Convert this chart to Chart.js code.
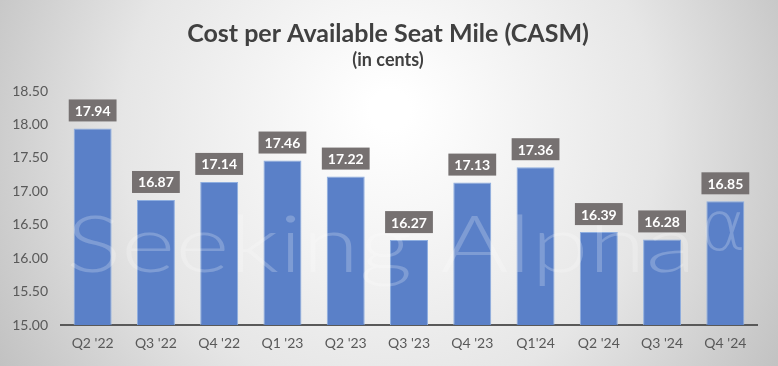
<!DOCTYPE html>
<html>
<head>
<meta charset="utf-8">
<script src="https://cdn.jsdelivr.net/npm/chart.js@4"></script>
<style>
  html, body { margin: 0; padding: 0; background: #fff; }
  #wrap { width: 778px; height: 366px; }
</style>
</head>
<body>
<div id="wrap"><canvas id="casmChart" width="778" height="366"></canvas></div>
<script>
// data
const quarters = ["Q2 '22", "Q3 '22", "Q4 '22", "Q1 '23", "Q2 '23", "Q3 '23", "Q4 '23", "Q1'24", "Q2 '24", "Q3 '24", "Q4 '24"];
const casmCents = [17.94, 16.87, 17.14, 17.46, 17.22, 16.27, 17.13, 17.36, 16.39, 16.28, 16.85];
const yMin = 15.0;
const yMax = 18.5;
const yStep = 0.5;
const titleText = 'Cost per Available Seat Mile (CASM)';
const subtitleText = '(in cents)';

// grey radial background behind everything
const backgroundPlugin = {
  id: 'bg',
  beforeDraw(chart) {
    const { ctx, width, height } = chart;
    const g = ctx.createRadialGradient(390, 110, 20, 390, 150, 470);
    g.addColorStop(0, '#ffffff');
    g.addColorStop(0.55, '#e6e6e6');
    g.addColorStop(1, '#bdbdbd');
    ctx.save();
    ctx.fillStyle = g;
    ctx.fillRect(0, 0, width, height);
    ctx.restore();
  }
};

// title + subtitle, centred on the whole chart box
const headingPlugin = {
  id: 'heading',
  afterDraw(chart) {
    const ctx = chart.ctx;
    ctx.save();
    ctx.fillStyle = '#404040';
    ctx.textAlign = 'center';
    ctx.textBaseline = 'middle';
    ctx.font = 'bold 25px Lato';
    ctx.fillText(titleText, 388, 34);
    ctx.font = 'bold 18px Lato';
    ctx.fillText(subtitleText, 388, 60);
    ctx.restore();
  }
};

// faint watermark over the bars
const watermarkPlugin = {
  id: 'watermark',
  afterDatasetsDraw(chart) {
    const ctx = chart.ctx;
    ctx.save();
    ctx.font = '300 78px Lato';
    ctx.fillStyle = 'rgba(255,255,255,0.22)';
    ctx.textBaseline = 'alphabetic';
    const txt = 'Seeking Alpha';
    const w = ctx.measureText(txt).width;
    ctx.translate(66, 272);
    ctx.scale(630 / w, 1);
    ctx.fillText(txt, 0, 0);
    ctx.restore();
    ctx.save();
    ctx.font = '300 70px "DejaVu Sans"';
    ctx.fillStyle = 'rgba(255,255,255,0.22)';
    ctx.fillText('\u03b1', 700, 250);
    ctx.restore();
  }
};

// grey boxes with the values above each bar
const valueLabelPlugin = {
  id: 'valueLabels',
  afterDatasetsDraw(chart) {
    const ctx = chart.ctx;
    const meta = chart.getDatasetMeta(0);
    ctx.save();
    ctx.font = 'bold 14px Lato';
    ctx.textAlign = 'center';
    ctx.textBaseline = 'middle';
    meta.data.forEach((bar, i) => {
      const txt = chart.data.datasets[0].data[i].toFixed(2);
      const tw = ctx.measureText(txt).width;
      const bw = tw + 12, bh = 22;
      const bottom = bar.y - 7;
      ctx.fillStyle = '#767171';
      ctx.fillRect(bar.x - bw / 2, bottom - bh, bw, bh);
      ctx.fillStyle = '#ffffff';
      ctx.fillText(txt, bar.x, bottom - bh / 2 + 1);
    });
    ctx.restore();
  }
};

new Chart(document.getElementById('casmChart'), {
  type: 'bar',
  data: {
    labels: quarters,
    datasets: [{
      data: casmCents,
      backgroundColor: '#5a80c8',
      borderColor: '#8eaee0',
      borderWidth: 1,
      barPercentage: 0.6,
      categoryPercentage: 1.0
    }]
  },
  options: {
    responsive: false,
    animation: false,
    layout: { padding: { left: 0, right: 21, top: 91, bottom: 0 } },
    plugins: {
      legend: { display: false },
      tooltip: { enabled: false },
      title: { display: false }
    },
    scales: {
      x: {
        grid: { display: false, drawTicks: false },
        border: { display: true, color: '#595959', width: 2 },
        ticks: { color: '#595959', font: { family: 'Lato', size: 14 }, padding: 10, maxRotation: 0 },
        afterFit(scale) { scale.height = 41; }
      },
      y: {
        min: yMin,
        max: yMax,
        grid: { display: false, drawTicks: false },
        border: { display: false },
        ticks: {
          stepSize: yStep,
          color: '#595959',
          font: { family: 'Lato', size: 14 },
          padding: 13,
          callback: v => v.toFixed(2)
        },
        afterFit(scale) { scale.width = 61; }
      }
    }
  },
  plugins: [backgroundPlugin, headingPlugin, watermarkPlugin, valueLabelPlugin]
});
</script>
</body>
</html>
